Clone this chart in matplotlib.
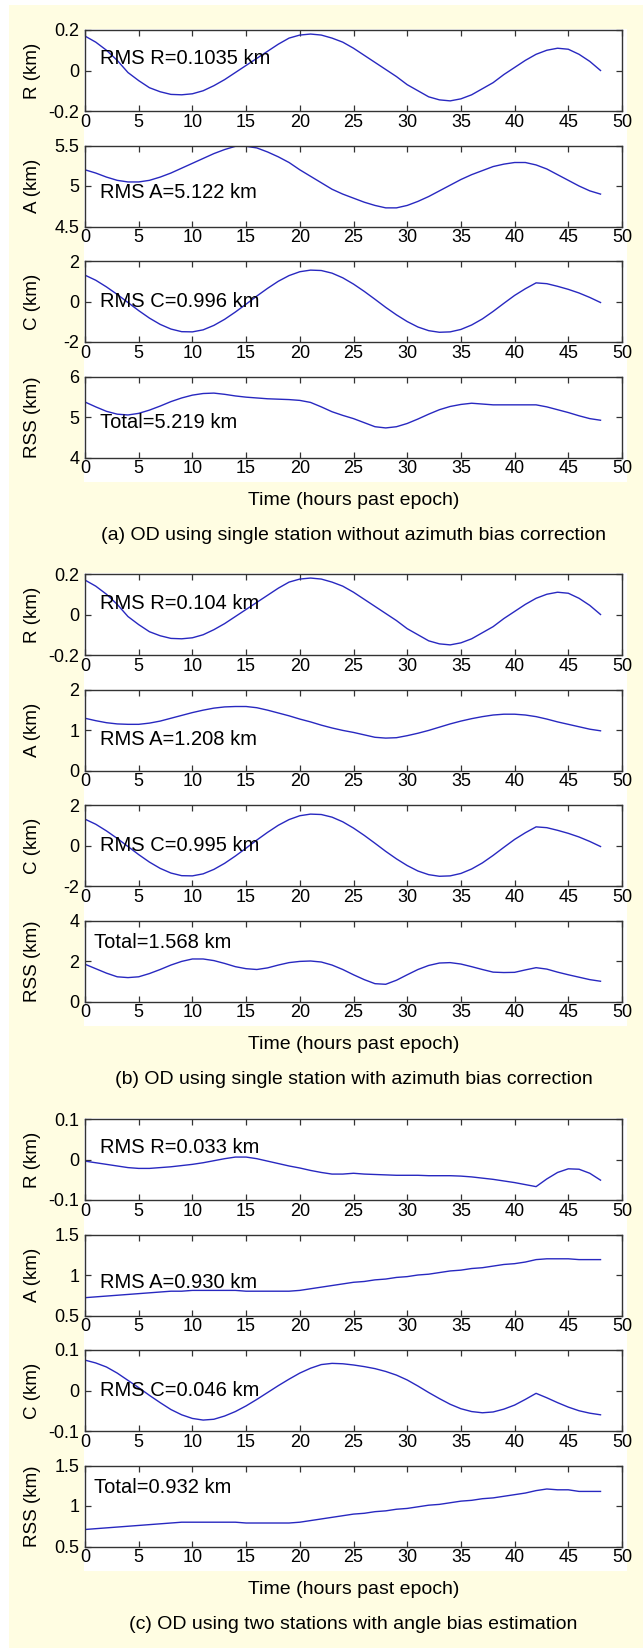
import matplotlib
matplotlib.use("Agg")
import matplotlib.pyplot as plt
from matplotlib.patches import Rectangle

plt.rcParams['font.family'] = ['Liberation Sans', 'DejaVu Sans']

#--------------------------------------------------
# datos (horas 0..48, paso 1 h)
t = list(range(49))

r_a = [0.17, 0.14, 0.10, 0.05, -0.01, -0.05, -0.085, -0.105, -0.118, -0.12,
       -0.115, -0.10, -0.075, -0.045, -0.01, 0.025, 0.06, 0.095, 0.13, 0.16,
       0.175, 0.18, 0.175, 0.16, 0.14, 0.11, 0.075, 0.04, 0.005, -0.03,
       -0.07, -0.10, -0.13, -0.145, -0.15, -0.14, -0.12, -0.09, -0.06, -0.02,
       0.015, 0.05, 0.08, 0.10, 0.11, 0.105, 0.08, 0.045, 0.0]
a_a = [5.20, 5.16, 5.11, 5.07, 5.05, 5.05, 5.07, 5.11, 5.16, 5.22,
       5.28, 5.34, 5.40, 5.45, 5.49, 5.49, 5.47, 5.42, 5.36, 5.29,
       5.20, 5.12, 5.04, 4.96, 4.90, 4.85, 4.80, 4.76, 4.73, 4.73,
       4.76, 4.81, 4.87, 4.94, 5.01, 5.08, 5.14, 5.19, 5.24, 5.27,
       5.29, 5.29, 5.26, 5.21, 5.14, 5.07, 5.00, 4.94, 4.90]
c_a = [1.30, 1.05, 0.72, 0.35, -0.05, -0.45, -0.82, -1.13, -1.36, -1.49,
       -1.50, -1.40, -1.18, -0.88, -0.52, -0.13, 0.27, 0.65, 1.00, 1.28,
       1.47, 1.55, 1.53, 1.40, 1.17, 0.86, 0.50, 0.11, -0.29, -0.66,
       -0.99, -1.26, -1.44, -1.52, -1.50, -1.38, -1.16, -0.86, -0.49, -0.09,
       0.30, 0.63, 0.92, 0.88, 0.75, 0.60, 0.42, 0.20, -0.05]
rss_a = [5.37, 5.25, 5.14, 5.07, 5.05, 5.09, 5.17, 5.27, 5.38, 5.47,
         5.54, 5.58, 5.59, 5.56, 5.52, 5.49, 5.47, 5.45, 5.44, 5.43,
         5.41, 5.36, 5.25, 5.13, 5.04, 4.96, 4.86, 4.76, 4.73, 4.76,
         4.84, 4.95, 5.07, 5.18, 5.26, 5.31, 5.34, 5.32, 5.30, 5.30,
         5.30, 5.30, 5.30, 5.25, 5.18, 5.11, 5.03, 4.96, 4.92]

r_b = [0.17, 0.14, 0.10, 0.05, -0.01, -0.05, -0.085, -0.105, -0.118, -0.12,
       -0.115, -0.10, -0.075, -0.045, -0.01, 0.025, 0.06, 0.095, 0.13, 0.16,
       0.175, 0.18, 0.175, 0.16, 0.14, 0.11, 0.075, 0.04, 0.005, -0.03,
       -0.07, -0.10, -0.13, -0.145, -0.15, -0.14, -0.12, -0.09, -0.06, -0.02,
       0.015, 0.05, 0.08, 0.10, 0.11, 0.105, 0.08, 0.045, 0.0]
a_b = [1.29, 1.23, 1.18, 1.15, 1.14, 1.14, 1.17, 1.22, 1.29, 1.36,
       1.43, 1.49, 1.54, 1.57, 1.58, 1.58, 1.55, 1.49, 1.42, 1.35,
       1.27, 1.20, 1.12, 1.05, 0.99, 0.94, 0.88, 0.82, 0.80, 0.81,
       0.86, 0.92, 0.99, 1.07, 1.15, 1.22, 1.28, 1.33, 1.37, 1.39,
       1.39, 1.37, 1.33, 1.27, 1.20, 1.14, 1.08, 1.02, 0.98]
c_b = [1.30, 1.05, 0.72, 0.35, -0.05, -0.45, -0.82, -1.13, -1.36, -1.49,
       -1.50, -1.40, -1.18, -0.88, -0.52, -0.13, 0.27, 0.65, 1.00, 1.28,
       1.47, 1.55, 1.53, 1.40, 1.17, 0.86, 0.50, 0.11, -0.29, -0.66,
       -0.99, -1.26, -1.44, -1.52, -1.50, -1.38, -1.16, -0.86, -0.49, -0.09,
       0.30, 0.63, 0.92, 0.88, 0.75, 0.60, 0.42, 0.20, -0.05]
rss_b = [1.84, 1.62, 1.40, 1.22, 1.18, 1.22, 1.38, 1.58, 1.80, 1.98,
         2.10, 2.10, 2.02, 1.88, 1.72, 1.62, 1.58, 1.66, 1.80, 1.92,
         1.98, 2.00, 1.95, 1.80, 1.58, 1.32, 1.08, 0.88, 0.85, 1.05,
         1.32, 1.58, 1.78, 1.90, 1.92, 1.85, 1.72, 1.58, 1.45, 1.43,
         1.44, 1.56, 1.67, 1.60, 1.45, 1.32, 1.20, 1.08, 1.00]

r_c = [-0.004, -0.008, -0.012, -0.016, -0.020, -0.022, -0.022, -0.020, -0.018, -0.015,
       -0.012, -0.008, -0.003, 0.002, 0.006, 0.006, 0.002, -0.004, -0.010, -0.016,
       -0.021, -0.027, -0.032, -0.036, -0.036, -0.034, -0.036, -0.037, -0.038, -0.039,
       -0.039, -0.039, -0.040, -0.040, -0.040, -0.041, -0.043, -0.046, -0.049, -0.053,
       -0.057, -0.062, -0.067, -0.048, -0.032, -0.023, -0.024, -0.034, -0.051]
a_c = [0.72, 0.73, 0.74, 0.75, 0.76, 0.77, 0.78, 0.79, 0.80, 0.80,
       0.81, 0.81, 0.81, 0.81, 0.81, 0.80, 0.80, 0.80, 0.80, 0.80,
       0.81, 0.83, 0.85, 0.87, 0.89, 0.91, 0.92, 0.94, 0.95, 0.97,
       0.98, 1.00, 1.01, 1.03, 1.05, 1.06, 1.08, 1.09, 1.11, 1.13,
       1.14, 1.16, 1.19, 1.20, 1.20, 1.20, 1.19, 1.19, 1.19]
c_c = [0.075, 0.068, 0.058, 0.043, 0.025, 0.007, -0.012, -0.030, -0.047, -0.060,
       -0.069, -0.073, -0.071, -0.063, -0.052, -0.038, -0.022, -0.005, 0.012, 0.028,
       0.043, 0.055, 0.064, 0.067, 0.066, 0.063, 0.059, 0.054, 0.047, 0.038,
       0.026, 0.011, -0.005, -0.020, -0.034, -0.045, -0.052, -0.055, -0.053, -0.046,
       -0.036, -0.022, -0.007, -0.018, -0.030, -0.041, -0.050, -0.056, -0.060]
rss_c = [0.71, 0.72, 0.73, 0.74, 0.75, 0.76, 0.77, 0.78, 0.79, 0.80,
         0.80, 0.80, 0.80, 0.80, 0.80, 0.79, 0.79, 0.79, 0.79, 0.79,
         0.80, 0.82, 0.84, 0.86, 0.88, 0.90, 0.91, 0.93, 0.94, 0.96,
         0.97, 0.99, 1.01, 1.02, 1.04, 1.06, 1.07, 1.09, 1.10, 1.12,
         1.14, 1.16, 1.19, 1.21, 1.20, 1.20, 1.18, 1.18, 1.18]

etiquetas_y = ["R (km)", "A (km)", "C (km)", "RSS (km)"]
textos_a = ["RMS R=0.1035 km", "RMS A=5.122 km", "RMS C=0.996 km", "Total=5.219 km"]
textos_b = ["RMS R=0.104 km", "RMS A=1.208 km", "RMS C=0.995 km", "Total=1.568 km"]
textos_c = ["RMS R=0.033 km", "RMS A=0.930 km", "RMS C=0.046 km", "Total=0.932 km"]
rangos_a = [(-0.2, 0.2), (4.5, 5.5), (-2, 2), (4, 6)]
rangos_b = [(-0.2, 0.2), (0, 2), (-2, 2), (0, 4)]
rangos_c = [(-0.1, 0.1), (0.5, 1.5), (-0.1, 0.1), (0.5, 1.5)]
titulos = ["(a) OD using single station without azimuth bias correction",
           "(b) OD using single station with azimuth bias correction",
           "(c) OD using two stations with angle bias estimation"]

#--------------------------------------------------
W, H = 643, 1648
amarillo = "#fffde2"
azul = "#2828c0"
gris = "#333333"

fig = plt.figure(figsize=(W/100, H/100), dpi=100, facecolor="white")
fig.patches.append(Rectangle((9/W, 0), 1-9/W, 1-5/H, transform=fig.transFigure,
                             facecolor=amarillo, edgecolor="none", zorder=-10))

def px(x, y, w, h):
    return [x/W, 1-(y+h)/H, w/W, h/H]

izq, ancho, alto, paso = 85, 537, 81, 115.5
tops = [30, 574, 1119]
paneles = [
    ([r_a, a_a, c_a, rss_a], rangos_a, textos_a, [0.65, 0.42, 0.5, 0.43], [0.028]*4),
    ([r_b, a_b, c_b, rss_b], rangos_b, textos_b, [0.64, 0.38, 0.5, 0.73], [0.028]*3+[0.017]),
    ([r_c, a_c, c_c, rss_c], rangos_c, textos_c, [0.65, 0.41, 0.5, 0.73], [0.028]*3+[0.017]),
]

for p, (series, rangos, textos, ypos, xpos) in enumerate(paneles):
    top = tops[p]
    # fondo blanco detras del bloque de ejes
    fig.patches.append(Rectangle((84/W, 1-(top+3*paso+alto+24)/H), (627-84)/W,
                                 (3*paso+alto+25)/H, transform=fig.transFigure,
                                 facecolor="white", edgecolor="none", zorder=-5))
    for k in range(4):
        ax = fig.add_axes(px(izq, top+k*paso, ancho, alto))
        ax.plot(t, series[k], color=azul, lw=1.0)
        lo, hi = rangos[k]
        ax.set_xlim(0, 50)
        ax.set_ylim(lo, hi)
        ax.set_xticks(range(0, 51, 5))
        ax.set_yticks([lo, (lo+hi)/2, hi])
        ax.set_yticklabels([f"{v:g}" for v in [lo, (lo+hi)/2, hi]])
        ax.tick_params(direction="in", top=True, right=True, length=4, width=0.9,
                       color=gris, labelsize=13, pad=2)
        ax.tick_params(axis="y", pad=4)
        for s in ax.spines.values():
            s.set_color(gris)
            s.set_linewidth(1.0)
        ax.set_ylabel(etiquetas_y[k], fontsize=13.5)
        ax.yaxis.set_label_coords(-0.082, 0.5)
        ax.text(xpos[k], ypos[k], textos[k], transform=ax.transAxes,
                fontsize=14.5, va="center", ha="left")
    ybase = top + 3*paso + alto
    fig.text((izq+ancho/2)/W, 1-(ybase+43)/H, "Time (hours past epoch)",
             ha="center", va="center", fontsize=14)
    fig.text((izq+ancho/2)/W, 1-(ybase+78)/H, titulos[p],
             ha="center", va="center", fontsize=14)

fig.savefig("out.png", dpi=100, facecolor=fig.get_facecolor())
